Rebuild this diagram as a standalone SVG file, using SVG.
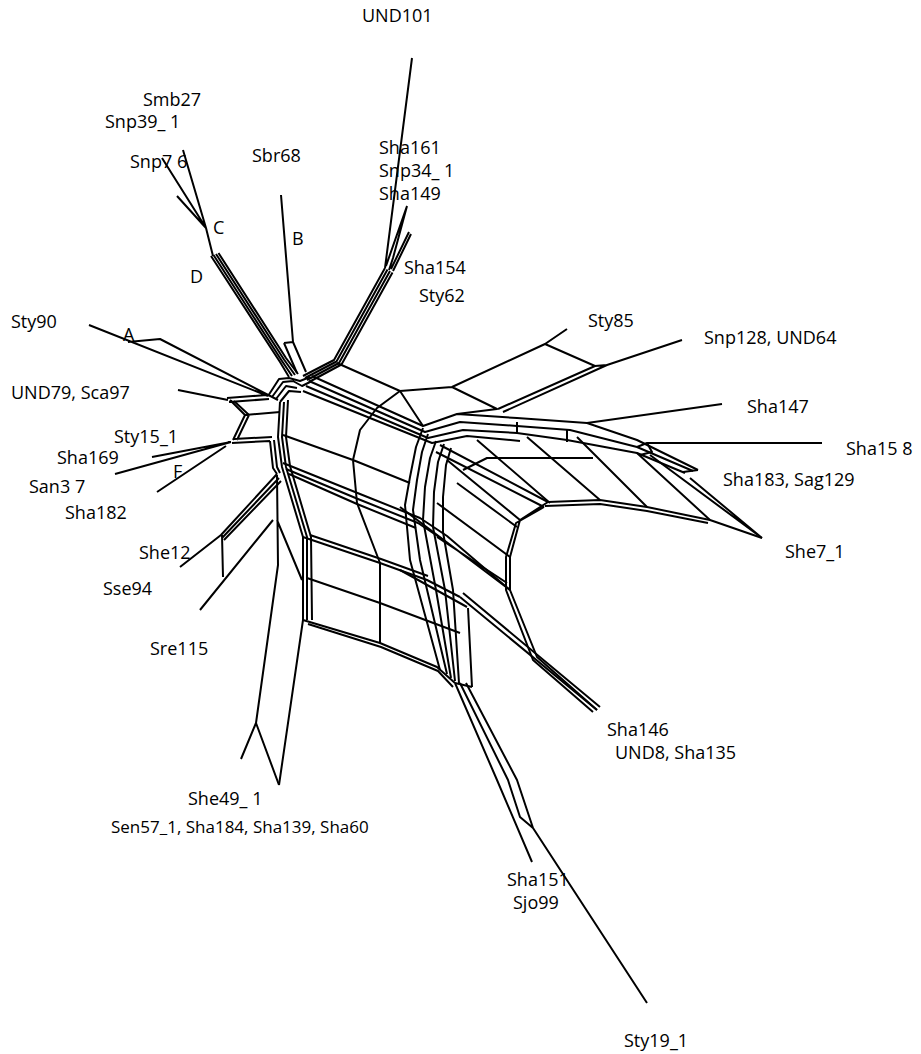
<svg xmlns="http://www.w3.org/2000/svg" width="921" height="1054" viewBox="0 0 921 1054">
<style>
.e{fill:none;stroke:#000;stroke-width:2;stroke-linejoin:round}
.l{font-family:"Open Sans","Noto Sans",sans-serif;font-size:18px;fill:#000}
.s{font-size:17px}
</style>
<rect width="921" height="1054" fill="#fff"/>
<g id="connectors" class="e">
<!-- upper right -->
<path d="M412,58 L385,268 M407,206 L386,266 M407,206 L393,258 L389,270 M409,232 L391,269 M411,234 L393,271"/>
<path d="M385,268 L334,360 L303,376 M387.5,269.5 L336.5,361.5 L305,378 M390,271 L339,363 L307,380 M392.5,272.5 L341.5,364.5 L309,382"/>
<!-- upper left -->
<path d="M162,158 L206,228 M183,150 L206,228 M177,196 L206,228 M206,228 L213,256"/>
<path d="M211,256 L280,362 L289,377 M213.5,255 L282,361 L292,376 M216,254 L284,359.5 L295,375 M218.5,253 L286,358 L298,374"/>
<path d="M281,195 L293,342 L306,372 M284,343 L293,342 M284,343 L297,373"/>
<!-- knot -->
<path d="M268,396 L279,379 L289,378 L300,381 L310,377 M272,397 L283,382 L293,381 L302,386 L312,381 M276,399 L286,386 L297,388 M280,402 L289,391 L301,392"/>
<!-- top edge, Sty85, Snp128 -->
<path d="M337,363 L400,391 L452,387 L545,344 L567,329 M545,344 L595,366 M452,387 L497,409 L457,414 M400,391 L423,426"/>
<path d="M682,340 L607,365 L503,412 M595,366 L498,409 M595,366 L607,365"/>
<!-- top band to fan ridge -->
<path d="M312,376 L423,426 L457,414 L517,418 L587,423 L637,440 L698,470 M309,381 L425,432 L460,422 L517,426 L570,430 L637,447 L693,471 M306,386 L428,438 L463,430 L517,433 L567,440 L637,453 L685,473 M303,391 L432,443 L467,436 L520,441"/>
<path d="M587,423 L722,404 M647,443 L822,443 M637,447 L647,443 L652,452 L640,455 M698,470 L683,472"/>
<!-- fan -->
<path d="M477,440 L550,503 M527,437 L600,500 M577,437 L647,507 M637,453 L710,520 M650,455 L762,538 M690,478 L762,538"/>
<path d="M548,502 L600,500 L647,507 L710,520 L762,538 M545,506 L600,504 L647,511 L708,523"/>
<path d="M463,470 L487,458 L593,458 M567,430 L567,442 M517,422 L517,433"/>
<!-- right arc -->
<path d="M440,445 L548,502 M436,452 L544,507 M447,460 L520,520"/>
<path d="M548,502 L520,520 L510,557 L510,590 L537,657 L597,710 M544,507 L516,523 L506,557 L506,590 L533,660 L593,712"/>
<path d="M457,483 L517,527 M437,503 L510,557 M437,537 L507,583 M400,507 L510,590 M400,570 L467,607"/>
<!-- Sha146 -->
<path d="M460,597 L597,710 M463,593 L600,707 M468,608 L472,687 M455,683 L472,687"/>
<!-- vertical band -->
<path d="M423,428 L416,447 L410,477 L405,505 L410,560 L440,670 M428,434 L422,452 L417,480 L413,510 L420,560 L447,674 M436,441 L430,458 L425,487 L423,520 L436,590 L451,678 M444,444 L438,462 L434,492 L433,527 L445,590 L455,681 M451,448 L446,465 L443,497 L443,532 L453,590 L459,683"/>
<!-- middle band -->
<path d="M283,463 L360,494 L420,518 L447,536 L510,590 M286,469 L358,499 L418,523 L445,541 M289,474 L357,504 L416,528"/>
<!-- lower mesh -->
<path d="M303,537 L380,563 L427,580 L460,597 M310,535 L381,559 L428,576 M307,578 L380,603 L460,633 M303,620 L380,643 L437,667 L455,683 M308,624 L381,647 L438,671 L453,687"/>
<path d="M400,391 L377,408 L360,430 L353,460 L357,503 L380,563 L380,643 M283,435 L353,460 L410,483"/>
<!-- left boundary -->
<path d="M280,402 L278,437 L282,467 L303,537 L303,620 L279,785 M284,402 L282,437 L286,467 L307,537 L307,620 M288,400 L286,437 L290,466 L311,537 L312,620"/>
<path d="M277,475 L278,565 L256,723 L241,759 M256,723 L279,785 M277,520 L302,580"/>
<!-- left box -->
<path d="M89,325 L268,396 M128,342 L160,339 L278,400 M178,390 L228,400 M227,398 L267,395 M229,402 L269,399 M230,400 L245,415 L233,440 M234,401 L249,415 L237,440 M245,415 L280,412 M232,443 L270,441 M234,439 L272,437 M270,441 L273,468 L277,474 M274,440 L277,467 L280,473"/>
<path d="M152,457 L231,442 M115,474 L231,442 M157,492 L226,446"/>
<path d="M180,567 L221,535 L277,474 M222,538 L279,478 M224,540 L281,481 M222,535 L223,577 M200,610 L273,520"/>
<!-- bottom -->
<path d="M455,683 L497,780 L532,862 M460,683 L508,780 L520,817 L533,828 L647,1003 M466,683 L517,780 L533,828"/>
</g>
<g id="n-UND101"><text class="l" x="362" y="22">UND101</text></g>
<g id="n-Smb27"><text class="l" x="143" y="106">Smb27</text></g>
<g id="n-Snp39"><text class="l" x="105" y="128">Snp39_ 1</text></g>
<g id="n-Snp76"><text class="l" x="130" y="168">Snp7 6</text></g>
<g id="n-Sbr68"><text class="l" x="252" y="162">Sbr68</text></g>
<g id="n-Sha161"><text class="l" x="379" y="154">Sha161</text></g>
<g id="n-Snp34"><text class="l" x="379" y="177">Snp34_ 1</text></g>
<g id="n-Sha149"><text class="l" x="379" y="200">Sha149</text></g>
<g id="n-C"><text class="l" x="213" y="234">C</text></g>
<g id="n-B"><text class="l" x="292" y="245">B</text></g>
<g id="n-D"><text class="l" x="190" y="283">D</text></g>
<g id="n-Sha154"><text class="l" x="404" y="274">Sha154</text></g>
<g id="n-Sty62"><text class="l" x="419" y="302">Sty62</text></g>
<g id="n-Sty90"><text class="l" x="11" y="328">Sty90</text></g>
<g id="n-A"><text class="l" x="123" y="341">A</text></g>
<g id="n-Sty85"><text class="l" x="588" y="327">Sty85</text></g>
<g id="n-Snp128"><text class="l" x="704" y="344">Snp128, UND64</text></g>
<g id="n-UND79"><text class="l" x="11" y="399">UND79, Sca97</text></g>
<g id="n-Sha147"><text class="l" x="747" y="413">Sha147</text></g>
<g id="n-Sty15"><text class="l" x="114" y="443">Sty15_1</text></g>
<g id="n-Sha158"><text class="l" x="846" y="455">Sha15 8</text></g>
<g id="n-Sha169"><text class="l" x="57" y="464">Sha169</text></g>
<g id="n-F"><text class="l" x="173" y="478">F</text></g>
<g id="n-Sha183"><text class="l" x="723" y="486">Sha183, Sag129</text></g>
<g id="n-San37"><text class="l" x="29" y="493">San3 7</text></g>
<g id="n-Sha182"><text class="l" x="65" y="519">Sha182</text></g>
<g id="n-She12"><text class="l" x="139" y="559">She12</text></g>
<g id="n-She7"><text class="l" x="785" y="558">She7_1</text></g>
<g id="n-Sse94"><text class="l" x="103" y="595">Sse94</text></g>
<g id="n-Sre115"><text class="l" x="150" y="655">Sre115</text></g>
<g id="n-Sha146"><text class="l" x="607" y="736">Sha146</text></g>
<g id="n-UND8"><text class="l" x="615" y="759">UND8, Sha135</text></g>
<g id="n-She49"><text class="l" x="188" y="805">She49_ 1</text></g>
<g id="n-Sen57"><text class="l s" x="111" y="833">Sen57_1, Sha184, Sha139, Sha60</text></g>
<g id="n-Sha151"><text class="l" x="507" y="886">Sha151</text></g>
<g id="n-Sjo99"><text class="l" x="513" y="909">Sjo99</text></g>
<g id="n-Sty19"><text class="l" x="624" y="1047">Sty19_1</text></g>
</svg>
